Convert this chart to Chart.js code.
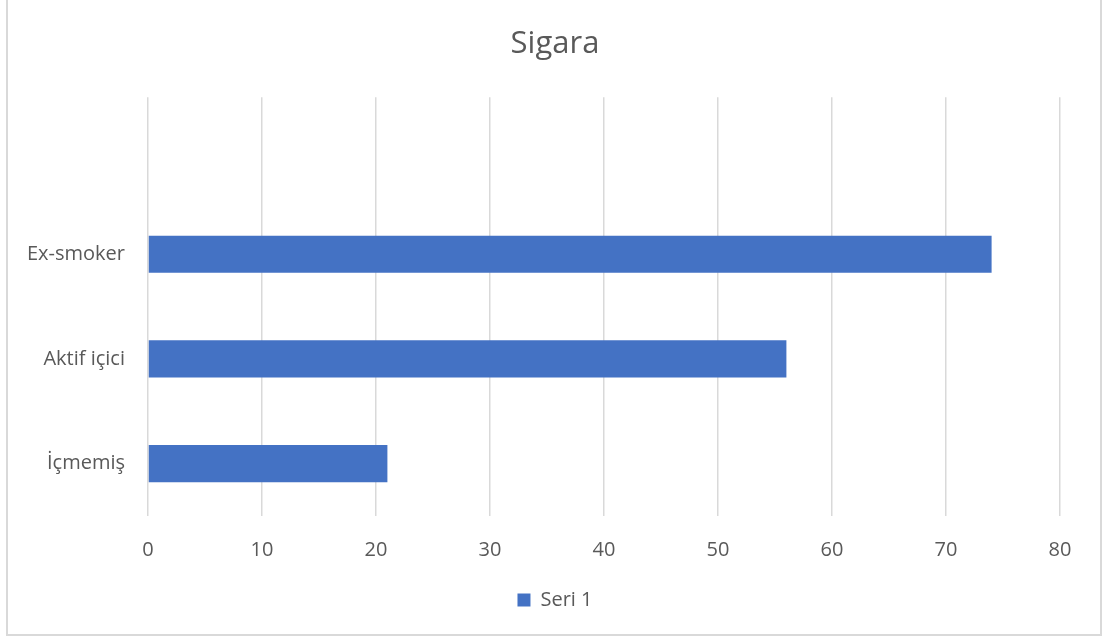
<!DOCTYPE html>
<html>
<head>
<meta charset="utf-8">
<script src="https://cdn.jsdelivr.net/npm/chart.js@4"></script>
<style>
  body { margin: 0; background: #fff; }
  #wrap { position: relative; width: 1107px; height: 642px; }
  #frame { position: absolute; left: 6px; top: -2px; width: 1096px; height: 638px; box-sizing: border-box; border: 2px solid #d9d9d9; pointer-events: none; }
</style>
</head>
<body>
<div id="wrap">
  <canvas id="sigaraChart" width="1107" height="642"></canvas>
  <div id="frame"></div>
</div>
<script>
const barColor = "#4472c4";
const textColor = "#595959";
const gridColor = "#d9d9d9";

// top category is empty in the original
const categories = ["", "Ex-smoker", "Aktif içici", "İçmemiş"];
const seri1 = [null, 74, 56, 21];
const xTicks = [0, 10, 20, 30, 40, 50, 60, 70, 80];

const font = "'Open Sans', 'DejaVu Sans', sans-serif";

const chart = new Chart(document.getElementById('sigaraChart'), {
    type: 'bar',
    data: {
        labels: categories,
        datasets: [{
            label: 'Seri 1',
            data: seri1,
            backgroundColor: barColor,
            borderWidth: 0,
            categoryPercentage: 1,
            barPercentage: 0.355
        }]
    },
    options: {
        indexAxis: 'y',
        responsive: false,
        animation: false,
        layout: {
            padding: { left: 10, right: 7, top: 0, bottom: 22 }
        },
        plugins: {
            title: {
                display: true,
                text: 'Sigara',
                color: textColor,
                font: { family: font, size: 31, weight: 'normal' },
                padding: { top: 26, bottom: 34 }
            },
            legend: {
                position: 'bottom',
                labels: {
                    color: textColor,
                    font: { family: font, size: 20 },
                    boxWidth: 13,
                    boxHeight: 13,
                    padding: 20
                }
            },
            tooltip: { enabled: false }
        },
        scales: {
            x: {
                min: 0,
                max: 80,
                afterBuildTicks: scale => { scale.ticks = xTicks.map(v => ({ value: v })); },
                afterFit: scale => { scale.height = 54; },
                grid: { color: gridColor, lineWidth: 1.5, drawTicks: false },
                border: { display: false },
                ticks: {
                    color: textColor,
                    font: { family: font, size: 20 },
                    padding: 22
                }
            },
            y: {
                afterFit: scale => { scale.width = 138; },
                grid: { display: false, drawTicks: false },
                border: { display: false },
                ticks: {
                    color: textColor,
                    font: { family: font, size: 20 },
                    padding: 23
                }
            },
            // empty spacer on the right so the plot ends at 80 like the original
            yRight: {
                type: 'category',
                position: 'right',
                afterFit: scale => { scale.width = 40; },
                grid: { display: false, drawTicks: false },
                border: { display: false },
                ticks: { display: false }
            }
        }
    }
});
</script>
</body>
</html>
